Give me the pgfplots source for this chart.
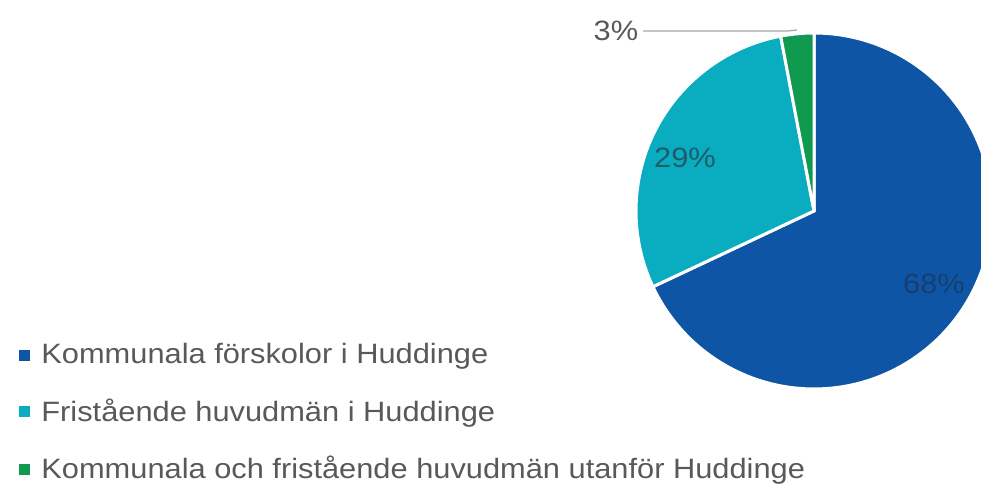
\documentclass[border=0pt]{standalone}
\usepackage{pgfplots}
\pgfplotsset{compat=1.18}
\usepackage{fontspec}
\setmainfont{Liberation Sans}[FakeStretch=1.1]
\definecolor{cblue}{RGB}{14,86,165}
\definecolor{ccyan}{RGB}{10,172,192}
\definecolor{cgreen}{RGB}{16,154,80}
\definecolor{ctext}{RGB}{89,89,89}
% shares in percent
\def\pA{68}\def\pB{29}\def\pC{3}
\pgfmathsetmacro\aA{90-3.6*\pA}
\pgfmathsetmacro\aB{\aA-3.6*\pB}
\pgfmathsetmacro\aC{\aB-3.6*\pC}
\begin{document}
\begin{tikzpicture}
\begin{axis}[
    hide axis,
    scale only axis,
    width=490.5pt, height=248.5pt,
    xmin=0, xmax=981, ymin=0, ymax=497,
    legend style={at={(axis cs:10,162)}, anchor=north west, draw=none, fill=none,
        font=\fontsize{14}{17}\selectfont, text=ctext, row sep=12pt, column sep=2.5pt,
        nodes={inner xsep=1.5pt}},
    legend cell align=left,
    legend image code/.code={\fill[#1] (0pt,-3.5pt) rectangle (7pt,3.5pt);},
    ]
    \addplot[fill=cblue, draw=white, line width=1.5pt, domain=\aA:90, samples=150, variable=\t]
        ({814+178*cos(\t)},{286+178*sin(\t)}) -- (axis cs:814,286) -- cycle;
    \addlegendentry{Kommunala förskolor i Huddinge}
    \addplot[fill=ccyan, draw=white, line width=1.5pt, domain=\aB:\aA, samples=80, variable=\t]
        ({814+178*cos(\t)},{286+178*sin(\t)}) -- (axis cs:814,286) -- cycle;
    \addlegendentry{Fristående huvudmän i Huddinge}
    \addplot[fill=cgreen, draw=white, line width=1.5pt, domain=\aC:\aB, samples=20, variable=\t]
        ({814+178*cos(\t)},{286+178*sin(\t)}) -- (axis cs:814,286) -- cycle;
    \addlegendentry{Kommunala och fristående huvudmän utanför Huddinge}
    \draw[gray!70, line width=0.6pt] (axis cs:643,466) -- (axis cs:788,466) -- (axis cs:797,467);
    \node[font=\fontsize{14}{17}\selectfont, text=ctext] at (axis cs:616,466) {3\%};
    \node[font=\fontsize{14}{17}\selectfont, text={rgb,255:red,30;green,92;blue,106}] at (axis cs:685,339) {29\%};
    \node[font=\fontsize{14}{17}\selectfont, text={rgb,255:red,22;green,62;blue,112}] at (axis cs:934,213) {68\%};
    \coordinate (sw) at (axis cs:0,0);
    \coordinate (ne) at (axis cs:981,497);
\end{axis}
\pgfresetboundingbox
\path[use as bounding box] (sw) rectangle (ne);
\end{tikzpicture}
\end{document}
